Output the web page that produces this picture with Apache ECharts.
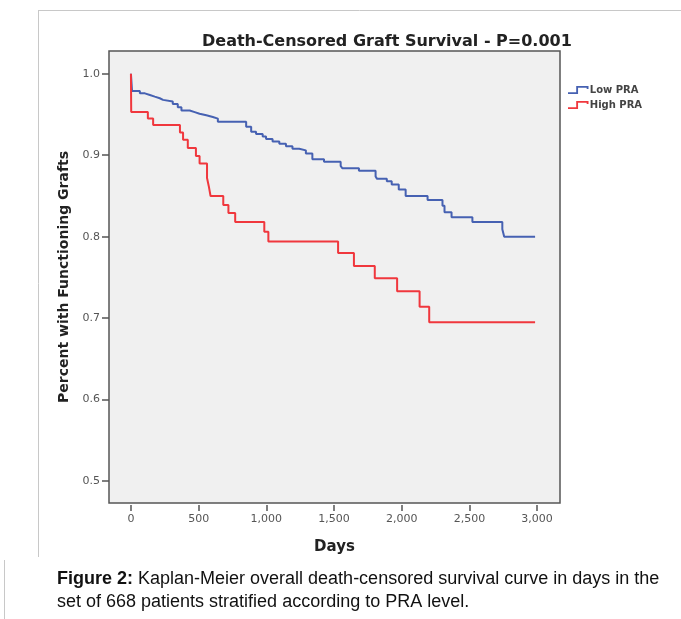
<!DOCTYPE html>
<html>
<head>
<meta charset="utf-8">
<script src="https://cdn.jsdelivr.net/npm/echarts@6/dist/echarts.min.js"></script>
<style>
  html, body { margin: 0; padding: 0; background: #fff; }
  #main { width: 681px; height: 619px; }
</style>
</head>
<body>
<div id="main"></div>
<script>
// Kaplan-Meier steps: day of each drop, survival after it
var lowDays = [0, 8, 66, 103, 140, 176, 213, 237, 309, 346, 373, 434, 471, 507, 557, 605, 642,
  851, 888, 924, 973, 998, 1046, 1096, 1145, 1193, 1243, 1292, 1340, 1426, 1549, 1561, 1684,
  1807, 1818, 1890, 1926, 1978, 2029, 2191, 2301, 2316, 2368, 2522, 2743, 2757, 2985];
var lowSurv = [1.0, 0.979, 0.976, 0.974, 0.972, 0.970, 0.968, 0.966, 0.963, 0.959, 0.955, 0.953, 0.951, 0.949, 0.947, 0.945, 0.941,
  0.935, 0.929, 0.926, 0.923, 0.920, 0.917, 0.914, 0.911, 0.908, 0.906, 0.902, 0.895, 0.892, 0.887, 0.884, 0.881,
  0.874, 0.871, 0.868, 0.864, 0.858, 0.850, 0.845, 0.838, 0.830, 0.824, 0.818, 0.809, 0.800, 0.800];

var highDays = [0, 2, 125, 164, 362, 385, 420, 480, 507, 562, 575, 588, 682, 720, 770, 985, 1015,
  1530, 1647, 1801, 1966, 2132, 2203, 2985];
var highSurv = [1.0, 0.953, 0.945, 0.937, 0.928, 0.919, 0.909, 0.899, 0.890, 0.872, 0.862, 0.850, 0.839, 0.829, 0.818, 0.806, 0.794,
  0.780, 0.764, 0.749, 0.733, 0.714, 0.695, 0.695];

var xTicks = [0, 500, 1000, 1500, 2000, 2500, 3000];
var yTicks = [0.5, 0.6, 0.7, 0.8, 0.9, 1.0];

function pairs(days, vals) {
  return days.map(function (d, i) { return [d, vals[i]]; });
}

var chart = echarts.init(document.getElementById('main'));
var stepIcon = 'path://M0,6 L8,6 L8,0 L20,0 L20,3 L18.2,3 L18.2,1.8 L9.8,1.8 L9.8,7.8 L0,7.8 Z';

chart.setOption({
  animation: false,
  backgroundColor: '#fff',
  title: {
    text: 'Death-Censored Graft Survival - P=0.001',
    left: 197, top: 29,
    textStyle: { fontFamily: 'DejaVu Sans', fontSize: 16, fontWeight: 'bold', color: '#222' }
  },
  legend: {
    orient: 'vertical', left: 563, top: 80, itemGap: 5,
    itemWidth: 21, itemHeight: 8,
    textStyle: { fontFamily: 'DejaVu Sans', fontSize: 10, fontWeight: 'bold', color: '#444', padding: [0, 0, 0, -4] },
    data: [{ name: 'Low PRA', icon: stepIcon }, { name: 'High PRA', icon: stepIcon }]
  },
  grid: {
    left: 109, right: 121, top: 51, bottom: 116,
    show: true, backgroundColor: '#f0f0f0', borderColor: '#555', borderWidth: 1.5
  },
  xAxis: {
    type: 'value', min: -162, max: 3169, offset: 2,
    name: 'Days', nameLocation: 'middle', nameGap: 35,
    nameTextStyle: { fontFamily: 'DejaVu Sans', fontSize: 15, fontWeight: 'bold', color: '#222' },
    axisLine: { show: false, onZero: false },
    axisTick: { show: true, length: 6, customValues: xTicks, lineStyle: { color: '#555', width: 1.5 } },
    axisLabel: {
      customValues: xTicks, margin: 9,
      fontFamily: 'DejaVu Sans', fontSize: 11, color: '#555',
      formatter: function (v) { return v.toLocaleString('en-US'); }
    },
    splitLine: { show: false }
  },
  yAxis: {
    type: 'value', min: 0.473, max: 1.028,
    name: 'Percent with Functioning Grafts', nameLocation: 'middle', nameGap: 36, nameRotate: 90,
    nameTextStyle: { fontFamily: 'DejaVu Sans', fontSize: 14, fontWeight: 'bold', color: '#222' },
    axisLine: { show: false, onZero: false },
    axisTick: { show: true, length: 7, customValues: yTicks, lineStyle: { color: '#555', width: 1.5 } },
    axisLabel: {
      customValues: yTicks, margin: 9,
      fontFamily: 'DejaVu Sans', fontSize: 11, color: '#555',
      formatter: function (v) { return v.toFixed(1); }
    },
    splitLine: { show: false }
  },
  series: [
    {
      name: 'Low PRA', type: 'line', step: 'end', showSymbol: false,
      color: '#4661b2', lineStyle: { width: 2, color: '#4661b2' },
      data: pairs(lowDays, lowSurv), z: 3
    },
    {
      name: 'High PRA', type: 'line', step: 'end', showSymbol: false,
      color: '#f0373d', lineStyle: { width: 2, color: '#f0373d' },
      data: pairs(highDays, highSurv), z: 4
    }
  ],
  graphic: [
    // faint frame of the figure box
    { type: 'line', shape: { x1: 38, y1: 10.5, x2: 681, y2: 10.5 }, style: { stroke: '#c8c8c8', lineWidth: 1 } },
    { type: 'line', shape: { x1: 38.5, y1: 10, x2: 38.5, y2: 557 }, style: { stroke: '#c8c8c8', lineWidth: 1 } },
    { type: 'line', shape: { x1: 4.5, y1: 560, x2: 4.5, y2: 619 }, style: { stroke: '#c8c8c8', lineWidth: 1 } },
    {
      type: 'text', left: 57, top: 568,
      style: {
        text: '{b|Figure 2:} Kaplan-Meier overall death-censored survival curve in days in the\nset of 668 patients stratified according to PRA level.',
        fontFamily: 'Liberation Sans', fontSize: 18, lineHeight: 23, fill: '#111',
        rich: { b: { fontFamily: 'Liberation Sans', fontSize: 18, fontWeight: 'bold', fill: '#111' } }
      }
    }
  ]
});
</script>
</body>
</html>
